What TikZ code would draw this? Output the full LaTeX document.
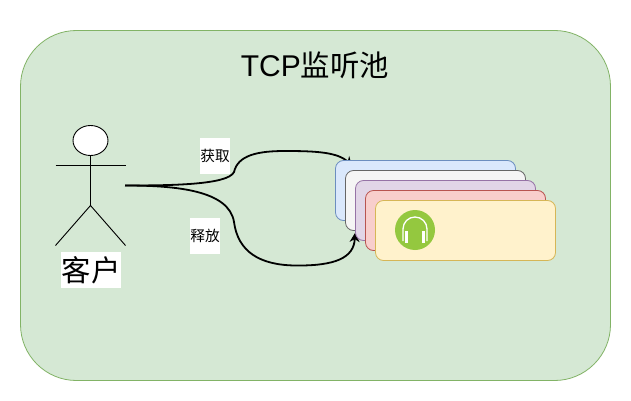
\documentclass[tikz,border=0pt]{standalone}
\usepackage{fontspec}
\setmainfont{Liberation Sans}
\newfontfamily\cjk{Noto Sans CJK SC}[Scale=0.98]
\usetikzlibrary{arrows.meta,shapes.geometric}
\definecolor{poolfill}{HTML}{D5E8D4}
\definecolor{pooledge}{HTML}{82B366}
\definecolor{blueF}{HTML}{DAE8FC}\definecolor{blueE}{HTML}{6C8EBF}
\definecolor{greyF}{HTML}{F5F5F5}\definecolor{greyE}{HTML}{666666}
\definecolor{purpF}{HTML}{E1D5E7}\definecolor{purpE}{HTML}{9673A6}
\definecolor{redF}{HTML}{F8CECC}\definecolor{redE}{HTML}{B85450}
\definecolor{yellF}{HTML}{FFF2CC}\definecolor{yellE}{HTML}{D6B656}
\definecolor{iconF}{HTML}{94C83F}
\tikzset{
  pool/.style={draw=pooledge,fill=poolfill,line width=0.8pt,rounded corners=56pt,minimum width=590pt,minimum height=350pt,inner sep=0pt},
  card/.style={rounded corners=8pt,minimum width=180pt,minimum height=60pt,inner sep=0pt,line width=0.8pt},
  stick/.style={draw=black,line width=0.9pt},
  link/.style={draw=black,line width=1.8pt,-{Stealth[length=9pt,width=10pt]}},
  lab/.style={fill=white,inner sep=0pt,text=black},
}
\begin{document}
\begin{tikzpicture}[x=1pt,y=-1pt]
\useasboundingbox (0,0) rectangle (631,401);
\fill[white] (0,0) rectangle (631,401);
\node[pool] (pool) at (315.5,205.5) {};
\node[inner sep=0pt] (title) at (315,65) {\fontsize{30}{32}\selectfont TCP{\cjk 监听池}};
% actor
\node[stick,fill=white,ellipse,minimum width=35pt,minimum height=30pt,inner sep=0pt] (head) at (90.5,140.5) {};
\coordinate (armL) at (55.5,165.5);
\coordinate (armR) at (125.5,165.5);
\coordinate (hip) at (90.5,205.5);
\coordinate (legL) at (55.5,245.5);
\coordinate (legR) at (125.5,245.5);
\coordinate (hand) at (125,185.5);
\draw[stick] (head.south) -- (hip);
\draw[stick] (armL) -- (armR);
\draw[stick] (legL) -- (hip) -- (legR);
\node[lab,minimum width=60pt,minimum height=36pt] (client) at (91,270) {\fontsize{30}{32}\selectfont\cjk 客户};
% connector to the stack, its tip under the first card
\coordinate (getEnd) at (352,166);
\coordinate (putEnd) at (355,233);
\draw[link] (hand) .. controls (170,185.5) and (228,185) .. (234,172)
  .. controls (238,155) and (258,151) .. (285,151)
  .. controls (315,151) and (338,152) .. (getEnd);
\node[lab,minimum width=30pt,minimum height=36pt] (get) at (215,156) {\fontsize{15}{16}\selectfont\cjk 获取};
\node[lab,minimum width=30pt,minimum height=36pt] (put) at (205,236) {\fontsize{15}{16}\selectfont\cjk 释放};
% cards
\node[card,draw=blueE,fill=blueF] (c1) at (425.5,190.5) {};
\node[card,draw=greyE,fill=greyF] (c2) at (435.5,200.5) {};
% return connector lies over the second card and under the third
\draw[link] (hand) .. controls (175,185.5) and (229,190) .. (234,222)
  .. controls (238,252) and (260,265) .. (295,265.5)
  .. controls (335,266) and (354,258) .. (putEnd);
\node[card,draw=purpE,fill=purpF] (c3) at (445.5,210.5) {};
\node[card,draw=redE,fill=redF] (c4) at (455.5,220.5) {};
\node[card,draw=yellE,fill=yellF] (c5) at (465.5,230.5) {};
% headphone icon
\node[circle,fill=iconF,minimum size=40pt,inner sep=0pt] (icon) at (415,230) {};
\draw[white,line width=1.3pt] (403,241) -- (403,229) arc[start angle=180,end angle=360,radius=12] -- (427,241);
\fill[white] (405.2,231) rectangle (408.2,243);
\fill[white] (421.8,231) rectangle (424.8,243);
\end{tikzpicture}
\end{document}
